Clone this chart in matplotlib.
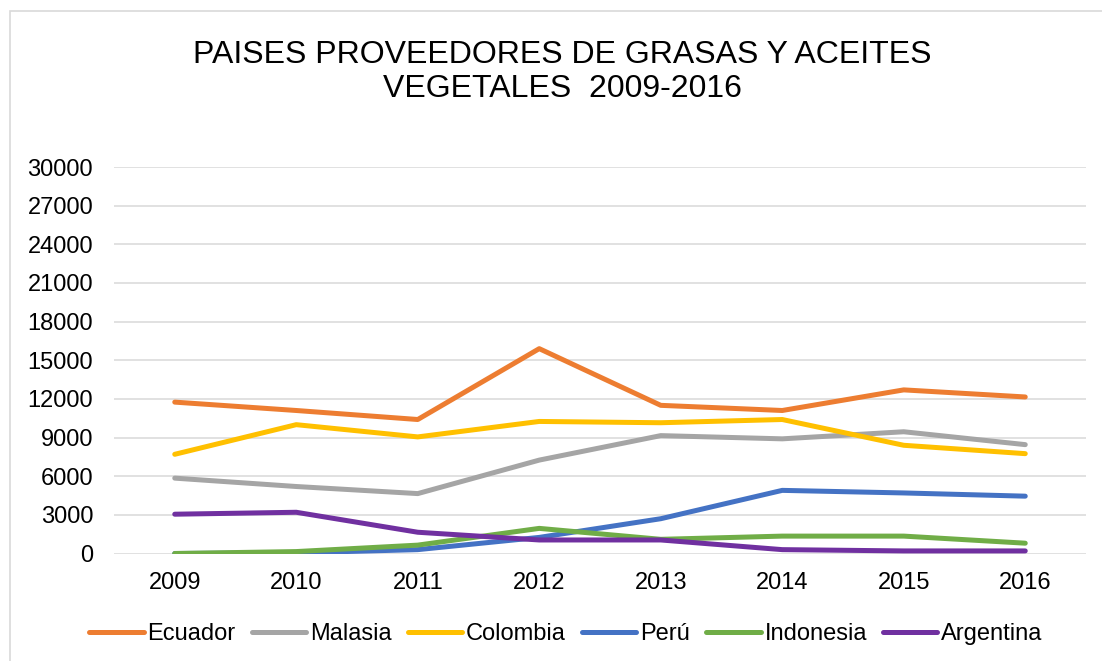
import matplotlib
matplotlib.use("Agg")
import matplotlib.pyplot as plt
from matplotlib.patches import Rectangle

plt.rcParams['font.family'] = ['Liberation Sans', 'DejaVu Sans']

# data
years = ['2009', '2010', '2011', '2012', '2013', '2014', '2015', '2016']
ecuador = [11750, 11100, 10400, 15900, 11500, 11100, 12700, 12150]
malasia = [5850, 5200, 4650, 7250, 9150, 8900, 9450, 8450]
colombia = [7700, 10000, 9050, 10250, 10150, 10400, 8400, 7750]
peru = [0, 50, 300, 1250, 2700, 4900, 4700, 4450]
indonesia = [0, 150, 650, 1950, 1100, 1350, 1350, 800]
argentina = [3050, 3200, 1650, 1050, 1050, 300, 200, 200]

series = [
    ('Ecuador', ecuador, '#ED7D31'),
    ('Malasia', malasia, '#A5A5A5'),
    ('Colombia', colombia, '#FFC000'),
    ('Perú', peru, '#4472C4'),
    ('Indonesia', indonesia, '#70AD47'),
    ('Argentina', argentina, '#7030A0'),
]

fig = plt.figure(figsize=(11.02, 6.61), dpi=100)
# light chart-area border
fig.patches.append(Rectangle((10 / 1102, -0.01), 1.0, 1 - 11 / 661 + 0.01,
                             transform=fig.transFigure, fill=False,
                             edgecolor='#d9d9d9', linewidth=1.2))

ax = fig.add_axes([114 / 1102, 1 - 553.5 / 661, 972 / 1102, 386.5 / 661])
x = list(range(len(years)))
for name, vals, col in series:
    ax.plot(x, vals, color=col, linewidth=3.6, solid_capstyle='round',
            solid_joinstyle='round', label=name)

ax.set_xlim(-0.5, len(years) - 0.5)
ax.set_ylim(0, 30000)
ax.set_yticks(range(0, 30001, 3000))
ax.set_xticks(x)
ax.set_xticklabels(years)
ax.grid(axis='y', color='#d9d9d9', linewidth=1.1)
ax.set_axisbelow(True)
for s in ax.spines.values():
    s.set_visible(False)
ax.tick_params(axis='both', length=0, labelsize=17, colors='black')
ax.tick_params(axis='y', pad=15)
ax.tick_params(axis='x', pad=13)

fig.text(562 / 1102, 1 - 72 / 661,
         'PAISES PROVEEDORES DE GRASAS Y ACEITES\nVEGETALES  2009-2016',
         ha='center', va='center', fontsize=23, linespacing=1.2)

fig.legend(loc='center', bbox_to_anchor=(566 / 1102, 1 - 634 / 661), ncol=6,
           frameon=False, fontsize=17, handlelength=2.3, handletextpad=0.17,
           columnspacing=0.68, borderaxespad=0)

fig.savefig('out.png', dpi=100)
